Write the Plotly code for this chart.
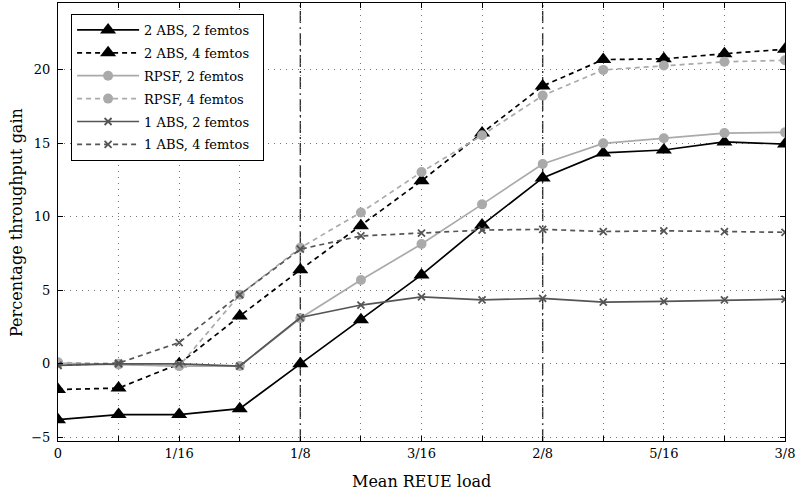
import plotly.graph_objects as go

x_idx = list(range(13))
x_vals = [i / 32 for i in x_idx]
tick_labels = ["0", "", "1/16", "", "1/8", "", "3/16", "", "2/8", "", "5/16", "", "3/8"]
y_ticks = [-5, 0, 5, 10, 15, 20]
y_tick_labels = ["\u22125", "0", "5", "10", "15", "20"]

abs2_2f = [-3.8, -3.45, -3.45, -3.05, 0.0, 3.0, 6.05, 9.45, 12.65, 14.35, 14.55, 15.1, 14.95]
abs2_4f = [-1.75, -1.65, 0.0, 3.25, 6.4, 9.4, 12.45, 15.7, 18.9, 20.7, 20.75, 21.1, 21.4]
rpsf_2f = [0.05, -0.05, -0.15, -0.15, 3.1, 5.7, 8.15, 10.85, 13.6, 15.0, 15.35, 15.7, 15.75]
rpsf_4f = [0.1, 0.0, -0.15, 4.7, 7.9, 10.3, 13.05, 15.55, 18.25, 20.0, 20.3, 20.55, 20.65]
abs1_2f = [-0.1, 0.0, 0.0, -0.15, 3.15, 4.0, 4.55, 4.35, 4.45, 4.2, 4.25, 4.35, 4.4]
abs1_4f = [-0.1, 0.05, 1.45, 4.7, 7.8, 8.7, 8.9, 9.1, 9.15, 9.0, 9.05, 9.0, 8.95]

names = ["2 ABS, 2 femtos", "2 ABS, 4 femtos", "RPSF, 2 femtos",
         "RPSF, 4 femtos", "1 ABS, 2 femtos", "1 ABS, 4 femtos"]
series = [abs2_2f, abs2_4f, rpsf_2f, rpsf_4f, abs1_2f, abs1_4f]
colors = ["#000000", "#000000", "#aaaaaa", "#aaaaaa", "#555555", "#555555"]
dashes = ["solid", "5px,4px", "solid", "5px,4px", "solid", "5px,4px"]
symbols = ["triangle-up", "triangle-up", "circle", "circle", "x-thin", "x-thin"]
sizes = [14, 14, 10, 10, 7, 7]

vlines = [4 / 32, 8 / 32]

FONT = "DejaVu Serif"

fig = go.Figure()
for k, (n, s, c, d, sym, sz) in enumerate(zip(names, series, colors, dashes, symbols, sizes)):
    fig.add_trace(go.Scatter(
        x=x_vals, y=s, name=n + "\u00a0\u00a0", mode="lines+markers", legendgroup=f"g{k}",
        line=dict(color=c, width=1.7, dash=d),
        marker=dict(symbol=sym, size=sz, color=c,
                    line=dict(color=c, width=1.8 if sym == "x-thin" else 0)),
    ))

for v in vlines:
    fig.add_shape(type="line", xref="x", yref="paper", x0=v, x1=v, y0=0, y1=1,
                  line=dict(color="#333333", width=1.4, dash="12px,4px,2px,4px"),
                  layer="below")

fig.add_annotation(text="Mean REUE load", xref="paper", yref="paper",
                   x=0.5, y=-0.066, xanchor="center", yanchor="top",
                   showarrow=False, font=dict(size=16, family=FONT))
fig.add_annotation(text="Percentage throughput gain", xref="paper", yref="paper",
                   x=-0.042, y=0.5, xanchor="right", yanchor="middle", textangle=-90,
                   showarrow=False, font=dict(size=16, family=FONT))

fig.update_layout(
    width=802, height=498,
    margin=dict(l=58, r=17, t=3, b=57),
    paper_bgcolor="white", plot_bgcolor="white",
    font=dict(family=FONT, size=14, color="black"),
    legend=dict(x=0.018, y=0.975, xanchor="left", yanchor="top",
                bordercolor="black", borderwidth=1, bgcolor="white",
                font=dict(size=13, family=FONT), itemwidth=62,
                tracegroupgap=3),
    showlegend=True,
)
fig.update_xaxes(
    range=[0, 12 / 32], tickvals=x_vals, ticktext=tick_labels,
    ticks="inside", ticklen=5, tickcolor="black", automargin=False,
    showline=True, linecolor="black", linewidth=1.2, mirror="allticks",
    showgrid=True, gridcolor="#777777", griddash="1px,5px", gridwidth=1,
    zeroline=False, tickfont=dict(size=13),
)
fig.update_yaxes(
    range=[-5.25, 24.55], tickvals=y_ticks, ticktext=y_tick_labels,
    ticks="inside", ticklen=5, tickcolor="black", automargin=False,
    showline=True, linecolor="black", linewidth=1.2, mirror="allticks",
    showgrid=True, gridcolor="#777777", griddash="1px,5px", gridwidth=1,
    zeroline=False, tickfont=dict(size=13), ticklabelstandoff=4,
)

fig.write_html("out.html", config={"displayModeBar": False},
               post_script="document.body.style.margin='0';document.body.style.overflow='hidden';")
